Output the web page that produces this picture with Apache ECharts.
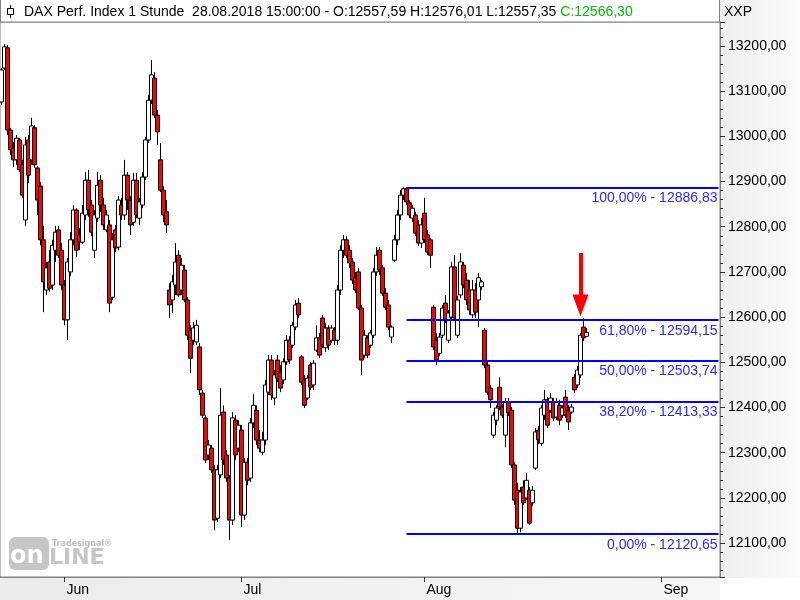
<!DOCTYPE html>
<html>
<head>
<meta charset="utf-8">
<script src="https://cdn.jsdelivr.net/npm/echarts@6/dist/echarts.min.js"></script>
<style>
html,body{margin:0;padding:0;background:#fff;}
#chart{width:800px;height:600px;}
</style>
</head>
<body>
<div id="chart"></div>
<script>
// ---- data (DAX Perf. Index, candles) ----
const opens = [
13076,13151,13196,13014,12974,12948,12992,12937,12815,12992,
12948,13019,12930,12890,12771,12660,12722,12671,12748,12793,
12748,12671,12594,12700,12771,12837,12782,12766,12826,12903,
12848,12748,12819,12903,12848,12793,12804,12644,12793,12755,
12848,12826,12914,12859,12810,12903,12819,12848,12910,12992,
13080,13129,13047,12948,12881,12833,12660,12638,12671,12737,
12660,12704,12638,12571,12549,12545,12534,12432,12377,12295,
12310,12262,12155,12251,12390,12295,12244,12151,12372,12310,
12350,12162,12279,12244,12366,12394,12328,12301,12328,12434,
12505,12421,12505,12479,12461,12501,12549,12538,12578,12631,
12512,12461,12421,12494,12450,12527,12554,12598,12532,12576,
12549,12571,12549,12660,12748,12771,12748,12722,12687,12700,
12620,12516,12554,12538,12560,12700,12748,12709,12653,12627,
12556,12726,12771,12826,12870,12884,12853,12819,12826,12804,
12764,12830,12782,12771,12622,12549,12520,12560,12631,12549,
12600,12711,12560,12649,12715,12682,12660,12605,12660,12638,
12667,12571,12494,12443,12339,12372,12445,12401,12339,12412,
12394,12273,12217,12133,12224,12200,12217,12189,12266,12350,
12321,12383,12417,12394,12412,12379,12405,12383,12423,12394,
12390,12467,12450,12472,12578,12557.59
];
const closes = [
13147,13198,13014,12970,12948,12996,12926,12870,12981,12914,
13023,12937,12859,12771,12678,12709,12664,12759,12788,12737,
12671,12594,12722,12771,12837,12748,12766,12830,12903,12837,
12788,12826,12892,12848,12804,12826,12631,12771,12753,12859,
12826,12914,12859,12804,12903,12826,12855,12910,12992,13080,
13136,13047,13010,12881,12826,12804,12627,12678,12722,12649,
12715,12638,12560,12509,12576,12582,12439,12383,12284,12317,
12262,12151,12262,12383,12284,12244,12151,12377,12295,12361,
12162,12279,12239,12366,12405,12328,12310,12328,12450,12505,
12428,12472,12465,12443,12501,12549,12505,12582,12627,12605,
12456,12405,12465,12445,12498,12554,12516,12538,12576,12538,
12576,12549,12660,12748,12771,12737,12720,12682,12660,12620,
12505,12560,12516,12565,12700,12737,12704,12653,12622,12578,
12578,12771,12826,12870,12884,12855,12826,12841,12786,12764,
12804,12771,12744,12737,12534,12505,12556,12620,12594,12609,
12711,12598,12638,12722,12671,12638,12616,12660,12611,12687,
12678,12494,12434,12417,12383,12399,12401,12383,12412,12388,
12273,12195,12133,12213,12189,12239,12144,12217,12346,12328,
12399,12417,12361,12421,12377,12412,12372,12399,12383,12368,
12401,12439,12483,12560,12554,12566.30
];
const lows = [
13069,13147,13003,12959,12932,12937,12921,12864,12802,12897,
12937,12930,12826,12759,12611,12649,12656,12660,12722,12731,
12660,12582,12549,12691,12759,12733,12748,12762,12815,12822,
12779,12731,12810,12833,12793,12788,12611,12638,12744,12748,
12815,12815,12837,12782,12802,12819,12804,12841,12903,12985,
13072,13041,12981,12877,12810,12786,12598,12609,12649,12644,
12649,12633,12549,12476,12538,12538,12428,12377,12277,12284,
12255,12129,12147,12244,12273,12235,12107,12140,12284,12301,
12135,12151,12228,12235,12355,12317,12301,12295,12317,12428,
12417,12405,12456,12434,12452,12494,12496,12532,12571,12598,
12450,12399,12417,12439,12439,12523,12509,12532,12523,12527,
12543,12538,12538,12649,12731,12731,12709,12673,12653,12616,
12472,12509,12509,12532,12554,12691,12693,12647,12616,12571,
12543,12722,12759,12815,12859,12848,12819,12810,12779,12757,
12753,12764,12737,12709,12527,12494,12514,12554,12587,12543,
12594,12594,12554,12642,12664,12627,12605,12598,12598,12578,
12660,12487,12428,12399,12332,12361,12394,12377,12312,12381,
12266,12184,12121,12124,12184,12195,12140,12182,12262,12319,
12315,12372,12355,12388,12370,12372,12361,12377,12377,12350,
12386,12432,12443,12465,12547,12557.35
];
const highs = [
13151,13204,13202,13019,12988,13003,12996,12948,12999,13003,
13041,13025,12934,12899,12802,12722,12748,12771,12802,12802,
12764,12682,12731,12788,12848,12841,12797,12848,12921,12926,
12859,12837,12921,12914,12864,12837,12815,12786,12804,12868,
12864,12948,12921,12868,12919,12919,12864,12921,12999,13092,
13169,13142,13058,12985,12890,12859,12675,12693,12764,12748,
12731,12715,12644,12582,12589,12594,12543,12439,12383,12328,
12317,12273,12273,12443,12405,12306,12251,12390,12383,12372,
12361,12288,12288,12377,12430,12405,12350,12346,12461,12516,
12516,12483,12516,12494,12509,12560,12558,12589,12638,12642,
12516,12472,12472,12501,12505,12582,12565,12605,12587,12582,
12582,12578,12671,12759,12782,12779,12759,12731,12700,12709,
12627,12571,12560,12571,12709,12755,12755,12715,12664,12638,
12582,12782,12837,12881,12887,12887,12859,12848,12833,12815,
12819,12864,12793,12775,12627,12565,12565,12627,12649,12616,
12722,12737,12647,12742,12722,12698,12682,12682,12675,12698,
12682,12576,12501,12450,12390,12405,12467,12408,12421,12421,
12401,12279,12233,12224,12239,12255,12224,12226,12355,12359,
12405,12439,12423,12432,12421,12421,12417,12405,12439,12405,
12408,12474,12492,12565,12598,12576.01
];

// x axis: one category per candle slot (incl. empty future slots)
const slotCount = 240;
const monthLabels = ['Jun', 'Jul', 'Aug', 'Sep'];
const monthStartSlots = [21, 80, 141, 220];

// y axis range
const yMin = 12025, yMax = 13253;

// Fibonacci retracement
const fibPercents = [100, 61.8, 50, 38.2, 0];
const fibValues = [12886.83, 12594.15, 12503.74, 12413.33, 12120.65];
const fibStartSlot = 135, fibEndSlot = 239;

// red arrow annotation
const arrowSlot = 193;
const arrowTop = 12742, arrowHead = 12626;

// header
const headerName = 'DAX Perf. Index 1 Stunde';
const headerTime = '28.08.2018 15:00:00';
const unitLabel = 'XXP';

const fmt = v => v.toFixed(2).replace('.', ',');
const N = opens.length;
const candleData = opens.map((o, i) => [o, closes[i], lows[i], highs[i]]);
const categories = Array.from({length: slotCount}, (_, i) => String(i));
const monthMap = {};
monthStartSlots.forEach((s, k) => { monthMap[s] = monthLabels[k]; });

const FONT = 'Liberation Sans, Arial, sans-serif';

const fibLines = fibValues.map((v, k) => [
  {coord: [fibStartSlot, v], name: fmt(fibPercents[k]) + '% - ' + fmt(v)},
  {coord: [fibEndSlot, v]}
]);

const lo = opens[N - 1], lc = closes[N - 1], ll = lows[N - 1], lh = highs[N - 1];
const headerMain = headerName + '  ' + headerTime + ' - O:' + fmt(lo) + ' H:' + fmt(lh) + ' L:' + fmt(ll) + ' ';
const headerClose = 'C:' + fmt(lc);

const chart = echarts.init(document.getElementById('chart'), null, {renderer: 'canvas'});
chart.setOption({
  animation: false,
  backgroundColor: '#ffffff',
  grid: {
    left: 0, top: 22, width: 720, height: 555,
    show: true, backgroundColor: '#ffffff', borderColor: '#808080', borderWidth: 1
  },
  xAxis: {
    type: 'category',
    data: categories,
    boundaryGap: true,
    axisLine: {show: true, lineStyle: {color: '#808080', width: 1}},
    axisTick: {
      show: true, alignWithLabel: true, length: 5,
      interval: (idx) => monthMap[idx] !== undefined,
      lineStyle: {color: '#333'}
    },
    axisLabel: {
      show: true,
      interval: (idx) => monthMap[idx] !== undefined,
      formatter: (val, idx) => monthMap[idx] || '',
      align: 'left', padding: [0, 0, 0, 2], margin: 6,
      color: '#000', fontSize: 14, fontFamily: FONT
    },
    splitLine: {show: false}
  },
  yAxis: {
    type: 'value',
    position: 'right',
    min: yMin, max: yMax,
    splitNumber: 12,
    scale: true,
    axisLine: {show: true, lineStyle: {color: '#808080'}},
    axisTick: {show: true, length: 5, lineStyle: {color: '#333'}},
    minorTick: {show: true, splitNumber: 5, length: 3, lineStyle: {color: '#333'}},
    splitLine: {show: false},
    axisLabel: {
      formatter: v => fmt(v),
      showMinLabel: false, showMaxLabel: false,
      color: '#000', fontSize: 14, fontFamily: FONT, margin: 8
    }
  },
  series: [
    {
      type: 'candlestick',
      data: candleData,
      barWidth: 4,
      itemStyle: {
        color: '#ffffff', color0: '#ff0000',
        borderColor: '#000000', borderColor0: '#000000', borderWidth: 1
      },
      emphasis: {disabled: true},
      markLine: {
        silent: true,
        symbol: ['none', 'none'],
        lineStyle: {color: '#0000ff', width: 2, type: 'solid'},
        label: {
          show: true, position: 'insideEndBottom', formatter: '{b}',
          color: '#2a2aff', fontSize: 14, fontFamily: FONT, distance: 4, offset: [3, 0]
        },
        emphasis: {disabled: true},
        data: fibLines
      }
    },
    {
      type: 'line',
      data: [],
      markLine: {
        silent: true,
        symbol: ['none', 'triangle'],
        lineStyle: {color: '#ff0000', width: 4, type: 'solid'},
        label: {show: false},
        emphasis: {disabled: true},
        data: [[
          {coord: [arrowSlot, arrowTop], symbol: 'none'},
          {coord: [arrowSlot, arrowHead], symbol: 'triangle', symbolSize: [16, 22]}
        ]]
      }
    }
  ],
  graphic: [
    {type: 'rect', z: -5, shape: {x: 720, y: 0, width: 80, height: 578},
     style: {fill: new echarts.graphic.LinearGradient(0, 0, 1, 0, [{offset: 0, color: '#efefef'}, {offset: 1, color: '#fbfbfb'}])}},
    {type: 'rect', z: -5, shape: {x: 0, y: 578, width: 720, height: 22},
     style: {fill: new echarts.graphic.LinearGradient(0, 0, 1, 0, [{offset: 0, color: '#ececec'}, {offset: 1, color: '#f6f6f6'}])}},
    {type: 'rect', z: 5, shape: {x: 0.5, y: -1, width: 719, height: 23},
     style: {fill: '#ffffff', stroke: '#808080', lineWidth: 1}},
    {type: 'line', z: 6, shape: {x1: 10.5, y1: 5, x2: 10.5, y2: 18}, style: {stroke: '#000', lineWidth: 1}},
    {type: 'rect', z: 7, shape: {x: 7.5, y: 8.5, width: 6, height: 6}, style: {fill: '#fff', stroke: '#000', lineWidth: 1}},
    {type: 'text', z: 8, x: 24, y: 12,
     style: {
       text: '{a|' + headerMain + '}{g|' + headerClose + '}',
       verticalAlign: 'middle',
       rich: {
         a: {fill: '#000000', fontSize: 14, fontFamily: FONT},
         g: {fill: '#00c000', fontSize: 14, fontFamily: FONT}
       }
     }},
    {type: 'text', z: 8, x: 724, y: 12,
     style: {text: unitLabel, fill: '#000', fontSize: 14, fontFamily: FONT, verticalAlign: 'middle'}},
    {type: 'rect', z: 1, shape: {x: 9, y: 537, width: 40, height: 33, r: 6}, style: {fill: '#c6c6c6'}},
    {type: 'text', z: 2, x: 10, y: 569,
     style: {text: 'on', fill: '#ffffff', fontSize: 24, fontWeight: 'bold', fontFamily: 'DejaVu Sans', verticalAlign: 'bottom'}},
    {type: 'text', z: 2, x: 49, y: 569,
     style: {text: 'LINE', fill: '#c6c6c6', fontSize: 22, fontWeight: 'bold', fontFamily: 'DejaVu Sans', verticalAlign: 'bottom'}},
    {type: 'text', z: 2, x: 52, y: 544,
     style: {text: 'Tradesignal®', fill: '#bdbdbd', fontSize: 8, fontWeight: 'bold', fontFamily: 'DejaVu Sans', verticalAlign: 'middle'}}
  ]
});
</script>
</body>
</html>
